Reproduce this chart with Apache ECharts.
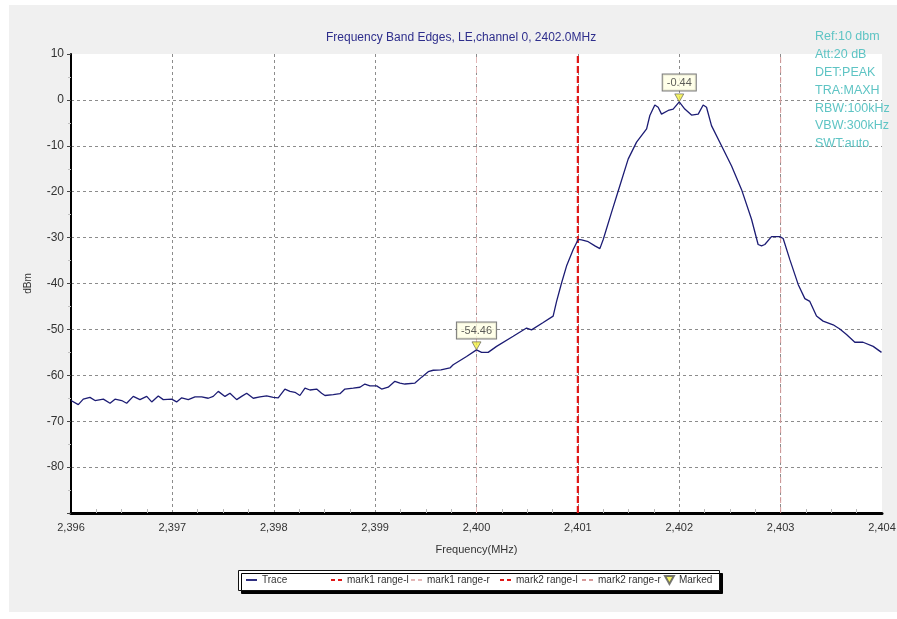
<!DOCTYPE html>
<html>
<head>
<meta charset="utf-8">
<script src="https://cdn.jsdelivr.net/npm/echarts@6/dist/echarts.min.js"></script>
<style>
  html, body { margin: 0; padding: 0; background: #ffffff; }
  #panel { position: absolute; left: 9px; top: 5px; width: 888px; height: 607px; background: #f0f0f0; }
  #chart { position: absolute; left: 0; top: 0; width: 897px; height: 619px; }
</style>
</head>
<body>
<div id="panel"></div>
<div id="chart"></div>
<script>
// Spectrum analyzer trace: frequency (MHz) and level (dBm)
const freqMHz = [
  2396.000, 2396.072, 2396.121, 2396.187, 2396.237, 2396.319, 2396.385, 2396.434, 2396.500, 2396.549,
  2396.614, 2396.680, 2396.747, 2396.796, 2396.861, 2396.910, 2396.993, 2397.042, 2397.092, 2397.157,
  2397.223, 2397.289, 2397.354, 2397.403, 2397.453, 2397.519, 2397.568, 2397.634, 2397.683, 2397.733,
  2397.798, 2397.864, 2397.930, 2397.995, 2398.044, 2398.110, 2398.160, 2398.209, 2398.258, 2398.308,
  2398.357, 2398.423, 2398.472, 2398.505, 2398.587, 2398.653, 2398.702, 2398.784, 2398.850, 2398.899,
  2398.949, 2399.015, 2399.064, 2399.129, 2399.195, 2399.245, 2399.294, 2399.393, 2399.459, 2399.524,
  2399.573, 2399.649, 2399.738, 2399.770, 2399.902, 2400.000, 2400.050, 2400.115, 2400.198, 2400.362,
  2400.494, 2400.543, 2400.658, 2400.756, 2400.790, 2400.839, 2400.888, 2400.954, 2401.003, 2401.037,
  2401.102, 2401.168, 2401.217, 2401.250, 2401.332, 2401.414, 2401.496, 2401.579, 2401.678, 2401.710,
  2401.759, 2401.792, 2401.825, 2401.891, 2401.940, 2402.000, 2402.055, 2402.121, 2402.187, 2402.236,
  2402.269, 2402.318, 2402.417, 2402.516, 2402.614, 2402.713, 2402.778, 2402.812, 2402.844, 2402.910,
  2402.992, 2403.025, 2403.091, 2403.173, 2403.239, 2403.288, 2403.354, 2403.419, 2403.518, 2403.584,
  2403.650, 2403.732, 2403.813, 2403.913, 2403.995
];
const levelDbm = [
  -65.5, -66.4, -65.2, -64.8, -65.5, -65.2, -66.1, -65.2, -65.5, -66.1,
  -64.6, -65.3, -64.6, -65.8, -64.5, -65.3, -65.2, -65.8, -64.9, -65.3,
  -64.7, -64.7, -65.0, -64.6, -63.5, -64.6, -63.9, -65.3, -64.6, -63.9,
  -65.0, -64.7, -64.5, -64.8, -64.9, -63.0, -63.5, -63.7, -64.4, -62.8,
  -63.2, -63.0, -63.9, -64.4, -64.2, -64.0, -63.0, -62.8, -62.6, -61.9,
  -62.3, -62.3, -63.0, -62.6, -61.3, -61.7, -61.9, -61.7, -60.4, -59.2,
  -58.9, -58.8, -58.4, -57.7, -55.9, -54.46, -55.0, -55.0, -53.7, -51.5,
  -49.7, -50.1, -48.5, -47.1, -43.9, -39.9, -36.2, -32.6, -30.4, -30.5,
  -30.9, -31.8, -32.4, -30.4, -24.5, -18.7, -12.9, -9.2, -6.3, -3.4,
  -1.1, -1.6, -3.1, -2.3, -2.0, -0.44, -2.0, -3.3, -3.1, -1.1,
  -1.6, -5.6, -10.0, -14.4, -19.5, -26.0, -31.5, -31.8, -31.5, -29.8,
  -29.8, -30.2, -34.8, -40.2, -43.3, -43.9, -47.1, -48.2, -49.0, -49.9,
  -51.1, -52.8, -52.8, -53.7, -55.0
];

// Band-edge range markers (vertical lines)
const rangeNames = ['mark1 range-l', 'mark1 range-r', 'mark2 range-l', 'mark2 range-r'];
const rangeFreqs = [2401, 2400, 2401, 2403];

// Marked peaks
const markedFreqs = [2400, 2402];
const markedLevels = [-54.46, -0.44];

// Instrument settings
const settingLines = ['Ref:10 dbm', 'Att:20 dB', 'DET:PEAK', 'TRA:MAXH', 'RBW:100kHz', 'VBW:300kHz', 'SWT:auto'];

const titleText = 'Frequency Band Edges, LE,channel 0, 2402.0MHz';

const sans = "'Liberation Sans', Arial, sans-serif";

const rangeStyles = [
  { color: '#e01818', width: 2, type: [7, 3] },
  { color: '#e4b8b8', width: 1, type: [6, 4] },
  { color: '#e01818', width: 2, type: [7, 3] },
  { color: '#d69a9a', width: 1, type: [6, 4] }
];

const traceData = freqMHz.map((f, i) => [f, levelDbm[i]]);
const markedData = markedFreqs.map((f, i) => [f, markedLevels[i]]);

const series = [];
rangeNames.forEach((name, i) => {
  series.push({
    name: name,
    type: 'line',
    symbol: 'none',
    z: 2,
    silent: true,
    lineStyle: rangeStyles[i],
    itemStyle: { color: rangeStyles[i].color },
    data: [[rangeFreqs[i], -90], [rangeFreqs[i], 10]]
  });
});
series.push({
  name: 'Trace',
  type: 'line',
  symbol: 'none',
  z: 3,
  lineStyle: { color: '#1c1c74', width: 1.3 },
  itemStyle: { color: '#1c1c74' },
  data: traceData
});
const triPath = 'path://M0,0 L10,0 L5,9 Z';
series.push({
  name: 'Marked',
  type: 'scatter',
  z: 5,
  symbol: triPath,
  symbolSize: [9, 8],
  symbolOffset: [0, '-50%'],
  itemStyle: { color: '#f2f040', borderColor: '#555', borderWidth: 0.8 },
  label: {
    show: true,
    position: 'top',
    distance: 3,
    formatter: p => p.value[1].toFixed(2),
    fontFamily: sans,
    fontSize: 11,
    color: '#333',
    backgroundColor: '#ffffe4',
    borderColor: '#5a5a5a',
    borderWidth: 1,
    padding: [3, 4, 2, 4]
  },
  data: markedData
});

// Legend: one component per entry so each sits at its own spot in the box
const solidIcon = 'path://M0,0 H12 V2 H0 Z';
const dashIcon = 'path://M0,0 H4 V2 H0 Z M7,0 H11 V2 H7 Z';
const legendSpots = [
  { name: 'Trace', left: 246, icon: solidIcon, w: 11, h: 2 },
  { name: 'mark1 range-l', left: 331, icon: dashIcon, w: 11, h: 2 },
  { name: 'mark1 range-r', left: 411, icon: dashIcon, w: 11, h: 2 },
  { name: 'mark2 range-l', left: 500, icon: dashIcon, w: 11, h: 2 },
  { name: 'mark2 range-r', left: 582, icon: dashIcon, w: 11, h: 2 },
  { name: 'Marked', left: 664, icon: triPath, w: 9, h: 8 }
];
const legends = legendSpots.map(s => ({
  data: [{ name: s.name, icon: s.icon }],
  left: s.left,
  top: 575,
  padding: 0,
  itemWidth: s.w,
  itemHeight: s.h,
  selectedMode: false,
  textStyle: { fontFamily: sans, fontSize: 10, color: '#333' }
}));

const chart = echarts.init(document.getElementById('chart'), null, { renderer: 'canvas' });
chart.setOption({
  animation: false,
  backgroundColor: 'transparent',
  title: [
    {
      text: titleText,
      left: 326,
      top: 32,
      padding: 0,
      textStyle: { fontFamily: sans, fontSize: 12, fontWeight: 'normal', color: '#2e2e8c' }
    },
    {
      text: settingLines.join('\n'),
      left: 815,
      top: 28,
      padding: 0,
      textStyle: { fontFamily: sans, fontSize: 12.5, fontWeight: 'normal', color: '#5ec4c4', lineHeight: 17.8 }
    }
  ],
  graphic: [
    {
      type: 'rect',
      z: 0,
      silent: true,
      shape: { x: 238.5, y: 570.5, width: 481, height: 20 },
      style: {
        fill: '#ffffff',
        stroke: '#111',
        lineWidth: 1,
        shadowColor: '#000',
        shadowOffsetX: 3,
        shadowOffsetY: 3,
        shadowBlur: 0
      }
    }
  ],
  legend: legends,
  grid: {
    left: 71,
    top: 54,
    width: 811,
    height: 459,
    outerBoundsMode: 'none',
    containLabel: false,
    show: true,
    backgroundColor: '#ffffff',
    borderWidth: 0
  },
  xAxis: {
    type: 'value',
    min: 2396,
    max: 2404,
    interval: 1,
    name: 'Frequency(MHz)',
    nameLocation: 'middle',
    nameGap: 31,
    nameTextStyle: { fontFamily: sans, fontSize: 11, color: '#333' },
    axisLine: { show: true, onZero: false, lineStyle: { color: '#000', width: 3 } },
    axisTick: { show: false, inside: true },
    minorTick: { show: true, splitNumber: 4, length: 4, lineStyle: { color: '#b8b8b8', width: 1 } },
    axisLabel: {
      margin: 9,
      fontFamily: sans,
      fontSize: 11,
      color: '#333',
      formatter: v => String(Math.round(v)).replace(/(\d)(\d{3})$/, '$1,$2')
    },
    splitLine: {
      show: true,
      showMinLine: false,
      showMaxLine: false,
      lineStyle: { color: '#8c8c8c', type: [3, 3], width: 1 }
    }
  },
  yAxis: {
    type: 'value',
    min: -90,
    max: 10,
    interval: 10,
    name: 'dBm',
    nameLocation: 'middle',
    nameRotate: 90,
    nameGap: 38,
    nameTextStyle: { fontFamily: sans, fontSize: 10, color: '#333' },
    axisLine: { show: true, onZero: false, lineStyle: { color: '#000', width: 2 } },
    axisTick: { show: true, length: 4, lineStyle: { color: '#444' } },
    minorTick: { show: true, splitNumber: 2, length: 3, lineStyle: { color: '#c0c0c0' } },
    axisLabel: {
      margin: 7,
      fontFamily: sans,
      fontSize: 12,
      color: '#333',
      formatter: v => (v === -90 ? '' : String(v))
    },
    splitLine: {
      show: true,
      showMinLine: false,
      showMaxLine: false,
      lineStyle: { color: '#8c8c8c', type: [3, 3], width: 1 }
    }
  },
  series: series
});
</script>
</body>
</html>
